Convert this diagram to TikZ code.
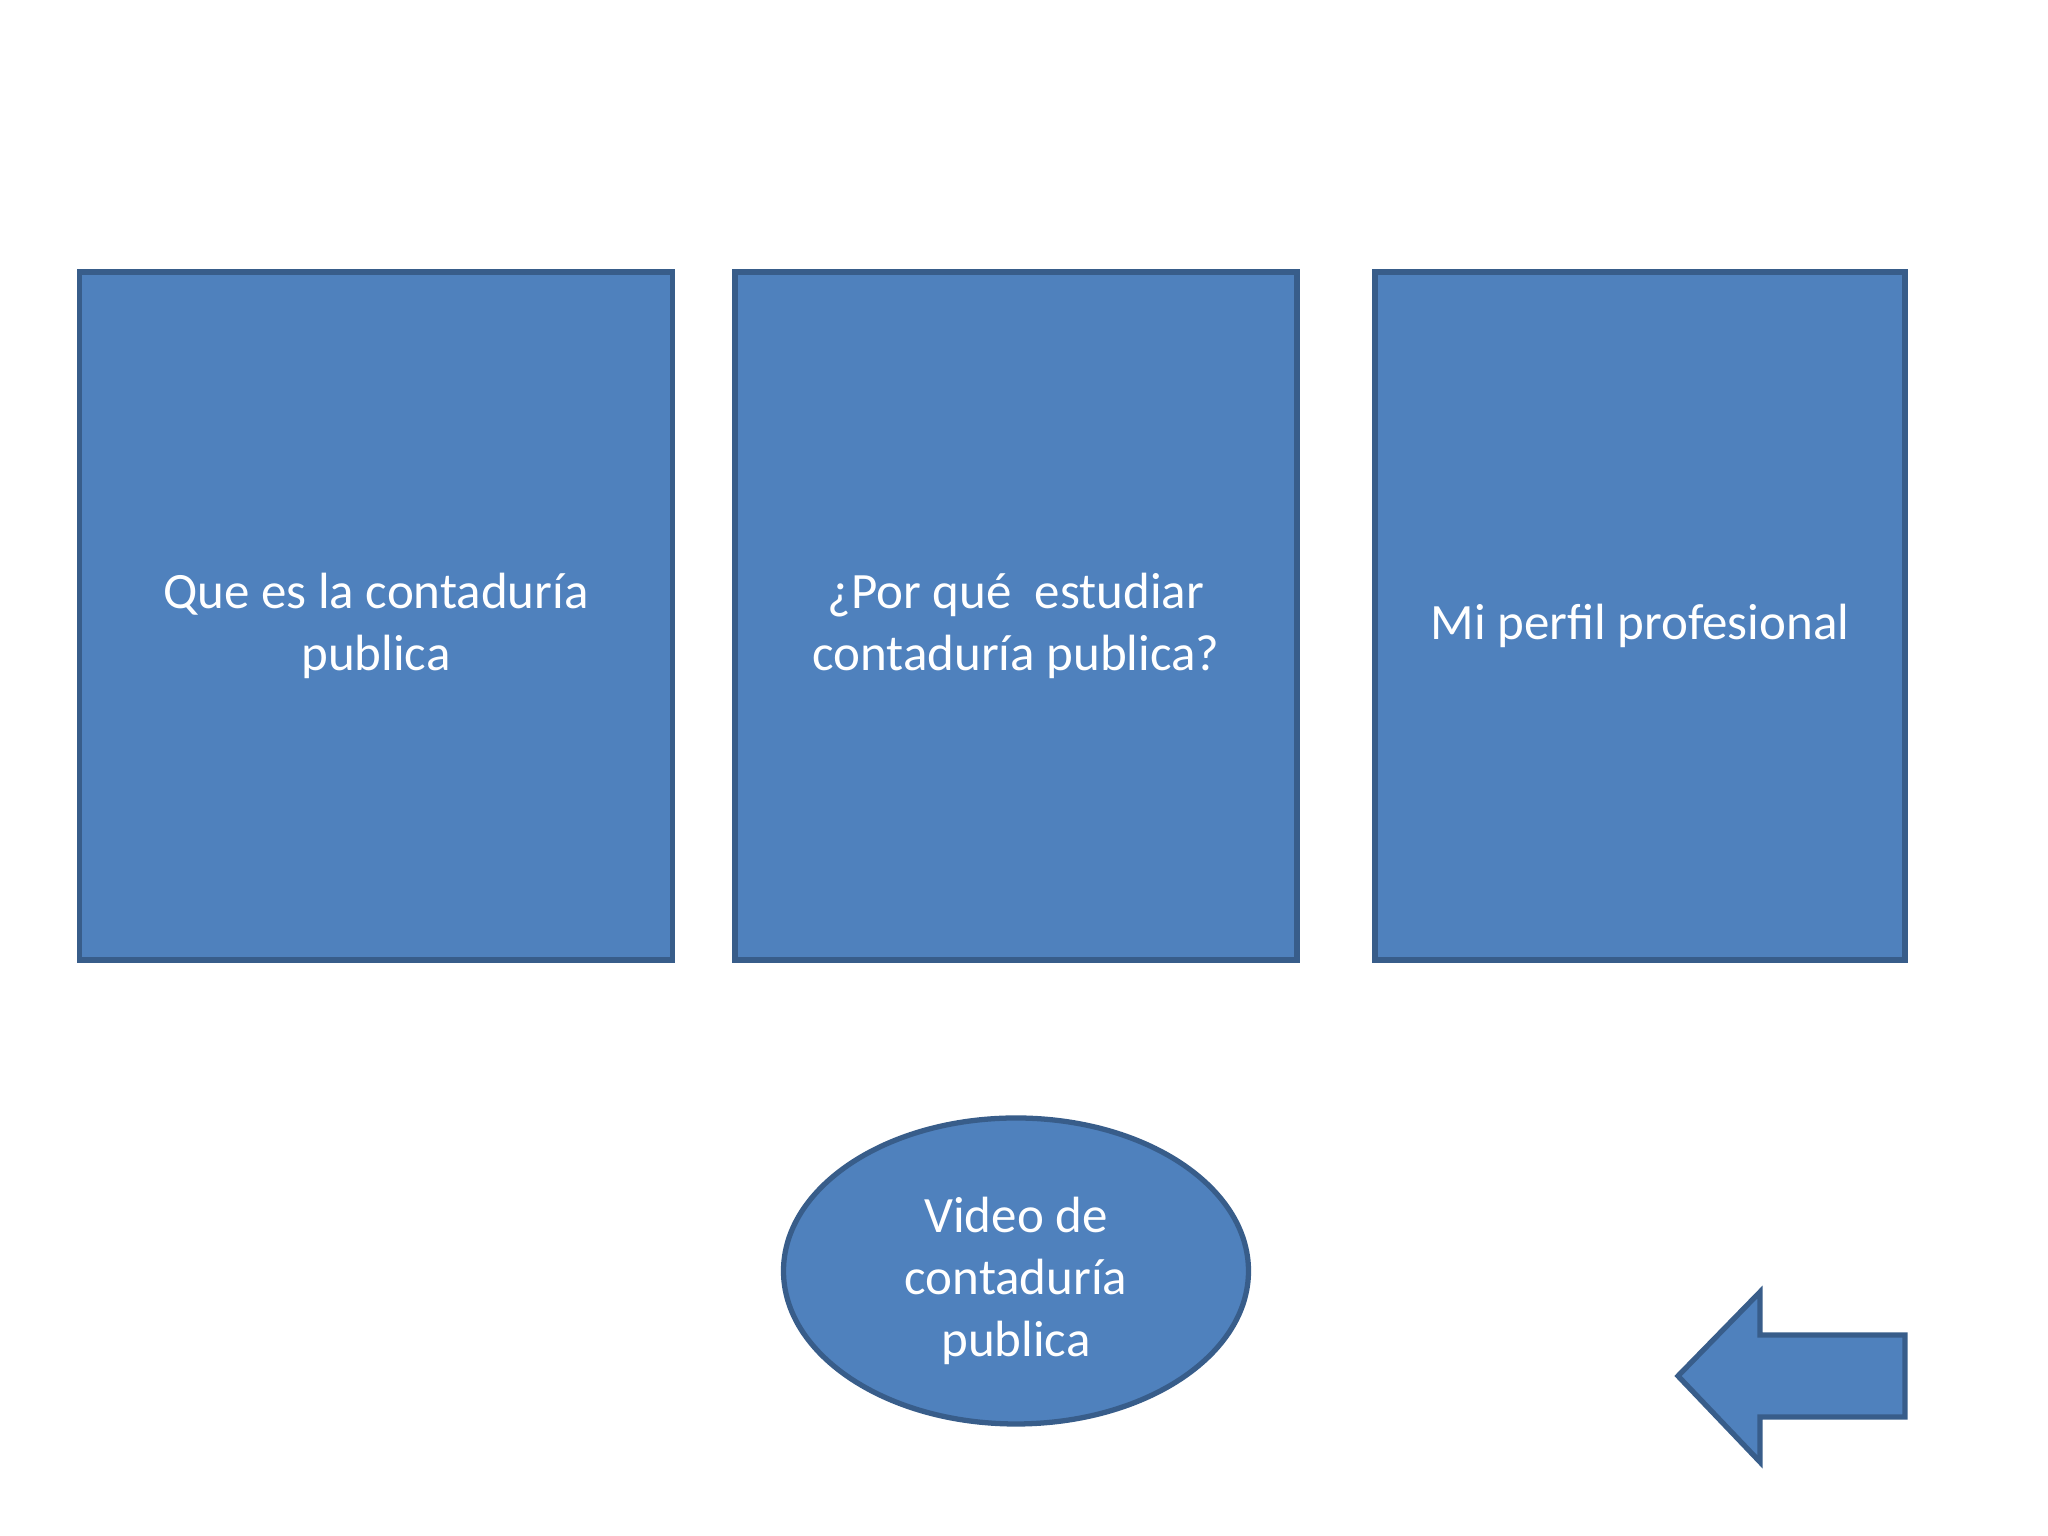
\documentclass[tikz,border=0pt]{standalone}
\usepackage{fontspec}
\setmainfont{Carlito}
\usetikzlibrary{shapes.geometric}
\definecolor{cajafondo}{HTML}{4F81BD}
\definecolor{cajaborde}{HTML}{385D8A}

\begin{document}
\begin{tikzpicture}[line width=1.5pt,
	caja/.style={draw=cajaborde,fill=cajafondo,minimum height=6.88cm},
	texto/.style={text=white,align=center,yshift=-0.1cm,
		font=\fontsize{14.5}{17.6}\selectfont},
	ovalo/.style={caja,ellipse,minimum width=4.65cm,minimum height=3.06cm}]
	\useasboundingbox (0,0) rectangle (20.48,15.36);

	%CAJAS
	\node[caja,minimum width=5.93cm,label={[texto]center:Que es la contaduría\\publica}] (que) at (3.76,9.20) {};
	\node[caja,minimum width=5.62cm,label={[texto]center:¿Por qué\ \ estudiar\\contaduría publica?}] (porque) at (10.16,9.20) {};
	\node[caja,minimum width=5.30cm,label={[texto]center:Mi perfil profesional}] (perfil) at (16.40,9.20) {};

	%VIDEO
	\node[ovalo,label={[texto]center:Video de\\contaduría\\publica}] (video) at (10.16,2.65) {};

	%FLECHA (regresar)
	\coordinate (punta) at (16.78,1.60);
	\draw[draw=cajaborde,fill=cajafondo,line join=miter]
		(punta) -- (17.60,2.44) -- (17.60,2.01) -- (19.05,2.01)
		-- (19.05,1.19) -- (17.60,1.19) -- (17.60,0.74) -- cycle;
\end{tikzpicture}
\end{document}
